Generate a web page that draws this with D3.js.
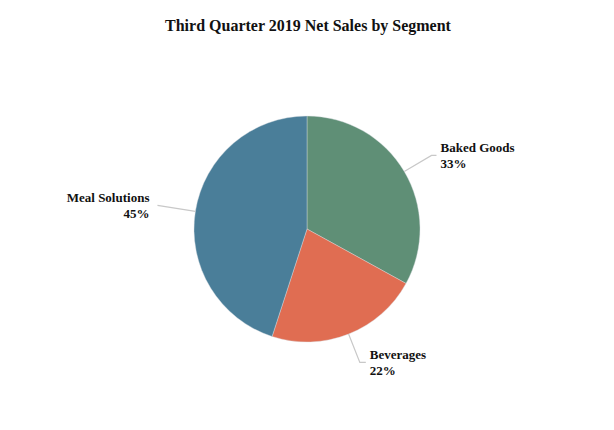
<!DOCTYPE html>
<html><head><meta charset="utf-8">
<script src="https://cdn.jsdelivr.net/npm/d3@7"></script>
<style>body{margin:0;background:#fff}svg{display:block}</style>
</head><body>
<svg id="c" width="614" height="430"></svg>
<script>
const categories = ["Baked Goods", "Beverages", "Meal Solutions"];
const values = [33, 22, 45];
const colors = ["#5f8f76", "#e06d52", "#4a7e99"];
const title = "Third Quarter 2019 Net Sales by Segment";

const svg = d3.select("#c");
const W = 614, H = 430;
const cx = 307, cy = 229, r = 113;
const font = "'Liberation Serif','Times New Roman',serif";

svg.append("text").attr("x", 308).attr("y", 31).attr("text-anchor","middle")
  .attr("font-family", font).attr("font-weight","bold").attr("font-size", 16)
  .attr("fill","#111").text(title);

const data = categories.map((c,i)=>({cat:c, v:values[i], color:colors[i]}));
const pie = d3.pie().value(d=>d.v).sort(null);
const arcs = pie(data);
const arc = d3.arc().innerRadius(0).outerRadius(r);
const g = svg.append("g").attr("transform", `translate(${cx},${cy})`);
g.selectAll("path").data(arcs).join("path")
  .attr("d", arc).attr("fill", d=>d.data.color)
  .attr("stroke", "#d9dfe3").attr("stroke-width", 0.4);

// leader lines: from arc edge outward then horizontal
const pt = (a, rr) => [Math.sin(a)*rr, -Math.cos(a)*rr];
const labelCfg = [
  {elbowR: 1.28, side: 1, hor: 5},
  {elbowR: 1.27, side: 1, hor: 6},
  {elbowR: 1.34, side: -1, hor: 0}
];
arcs.forEach((d,i)=>{
  const a = (d.startAngle + d.endAngle)/2;
  const cfg = labelCfg[i];
  const p0 = pt(a, r);
  const p1 = pt(a, r*cfg.elbowR);
  const p2 = [p1[0] + cfg.side*cfg.hor, p1[1]];
  g.append("polyline").attr("points", [p0,p1,p2].map(p=>p.join(",")).join(" "))
    .attr("fill","none").attr("stroke","#c8c8c8").attr("stroke-width",1.2);
  const tx = p2[0] + cfg.side*(cfg.hor ? 4 : 8);
  const t = g.append("text").attr("x", tx).attr("y", p2[1] - 3)
    .attr("text-anchor", cfg.side>0 ? "start" : "end")
    .attr("font-family", font).attr("font-weight","bold").attr("font-size", 13).attr("fill","#111");
  t.append("tspan").attr("x", tx).text(d.data.cat);
  t.append("tspan").attr("x", tx).attr("dy", 16).text(d.data.v + "%");
});
</script>
</body></html>
